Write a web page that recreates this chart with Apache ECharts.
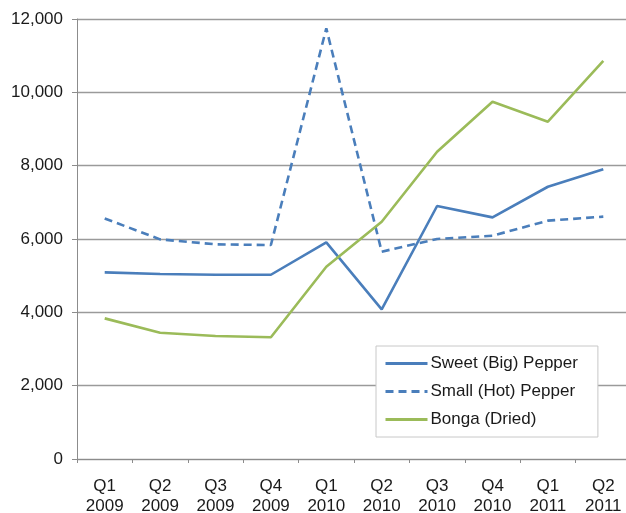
<!DOCTYPE html>
<html><head><meta charset="utf-8">
<script src="https://cdn.jsdelivr.net/npm/echarts@6/dist/echarts.min.js"></script>
<style>html,body{margin:0;padding:0;background:#fff}#c{width:626px;height:513px}</style>
</head><body><div id="c"></div>
<script>
var categories = ['Q1\n2009','Q2\n2009','Q3\n2009','Q4\n2009','Q1\n2010','Q2\n2010','Q3\n2010','Q4\n2010','Q1\n2011','Q2\n2011'];
var sweetPepper = [5090, 5045, 5025, 5025, 5910, 4080, 6900, 6590, 7425, 7900];
var smallPepper = [6560, 5990, 5855, 5835, 11745, 5655, 6000, 6090, 6500, 6610];
var bonga = [3835, 3445, 3355, 3320, 5245, 6470, 8380, 9745, 9200, 10860];
var yTicks = [0, 2000, 4000, 6000, 8000, 10000, 12000];

var font = 'Liberation Sans, Arial, sans-serif';
var chart = echarts.init(document.getElementById('c'), null, {renderer:'canvas'});
chart.setOption({
  animation: false,
  backgroundColor: '#fff',
  grid: {left: 77, right: -5, top: 19, bottom: 54, containLabel: false, outerBoundsMode: 'none'},
  xAxis: {
    type: 'category', data: categories, boundaryGap: true,
    axisLine: {lineStyle: {color: '#8c8c8c', width: 1}},
    axisTick: {show: true, length: 4, lineStyle: {color: '#8c8c8c'}},
    axisLabel: {color: '#1a1a1a', fontSize: 17, fontFamily: font, margin: 17, lineHeight: 20, interval: 0}
  },
  yAxis: {
    type: 'value', min: yTicks[0], max: yTicks[yTicks.length-1], interval: 2000,
    axisLine: {show: true, lineStyle: {color: '#8c8c8c', width: 1}},
    axisTick: {show: true, length: 5, lineStyle: {color: '#8c8c8c'}},
    splitLine: {lineStyle: {color: '#9a9a9a', width: 1.3}},
    axisLabel: {color: '#1a1a1a', fontSize: 17, fontFamily: font, margin: 14,
      formatter: function(v){ return v.toLocaleString('en-US'); }}
  },
  legend: {
    orient: 'vertical', left: 376, top: 346, width: 213,
    backgroundColor: '#fff', borderColor: '#c8c8c8', borderWidth: 1,
    padding: [9, 20, 9, 8], itemGap: 11, itemWidth: 42, itemHeight: 18,
    itemStyle: {opacity: 0},
    lineStyle: {width: 3},
    textStyle: {color: '#1a1a1a', fontSize: 17, fontFamily: font, padding: [0,0,0,-2]},
    data: ['Sweet (Big) Pepper', 'Small (Hot) Pepper', 'Bonga (Dried)']
  },
  series: [
    {name: 'Sweet (Big) Pepper', type: 'line', data: sweetPepper, symbol: 'none',
     lineStyle: {color: '#4a7ebb', width: 2.6}, itemStyle: {color: '#4a7ebb'}},
    {name: 'Small (Hot) Pepper', type: 'line', data: smallPepper, symbol: 'none',
     lineStyle: {color: '#4a7ebb', width: 2.6, type: [8, 5]}, itemStyle: {color: '#4a7ebb'}},
    {name: 'Bonga (Dried)', type: 'line', data: bonga, symbol: 'none',
     lineStyle: {color: '#9bbb59', width: 2.6}, itemStyle: {color: '#9bbb59'}}
  ]
});
</script></body></html>
